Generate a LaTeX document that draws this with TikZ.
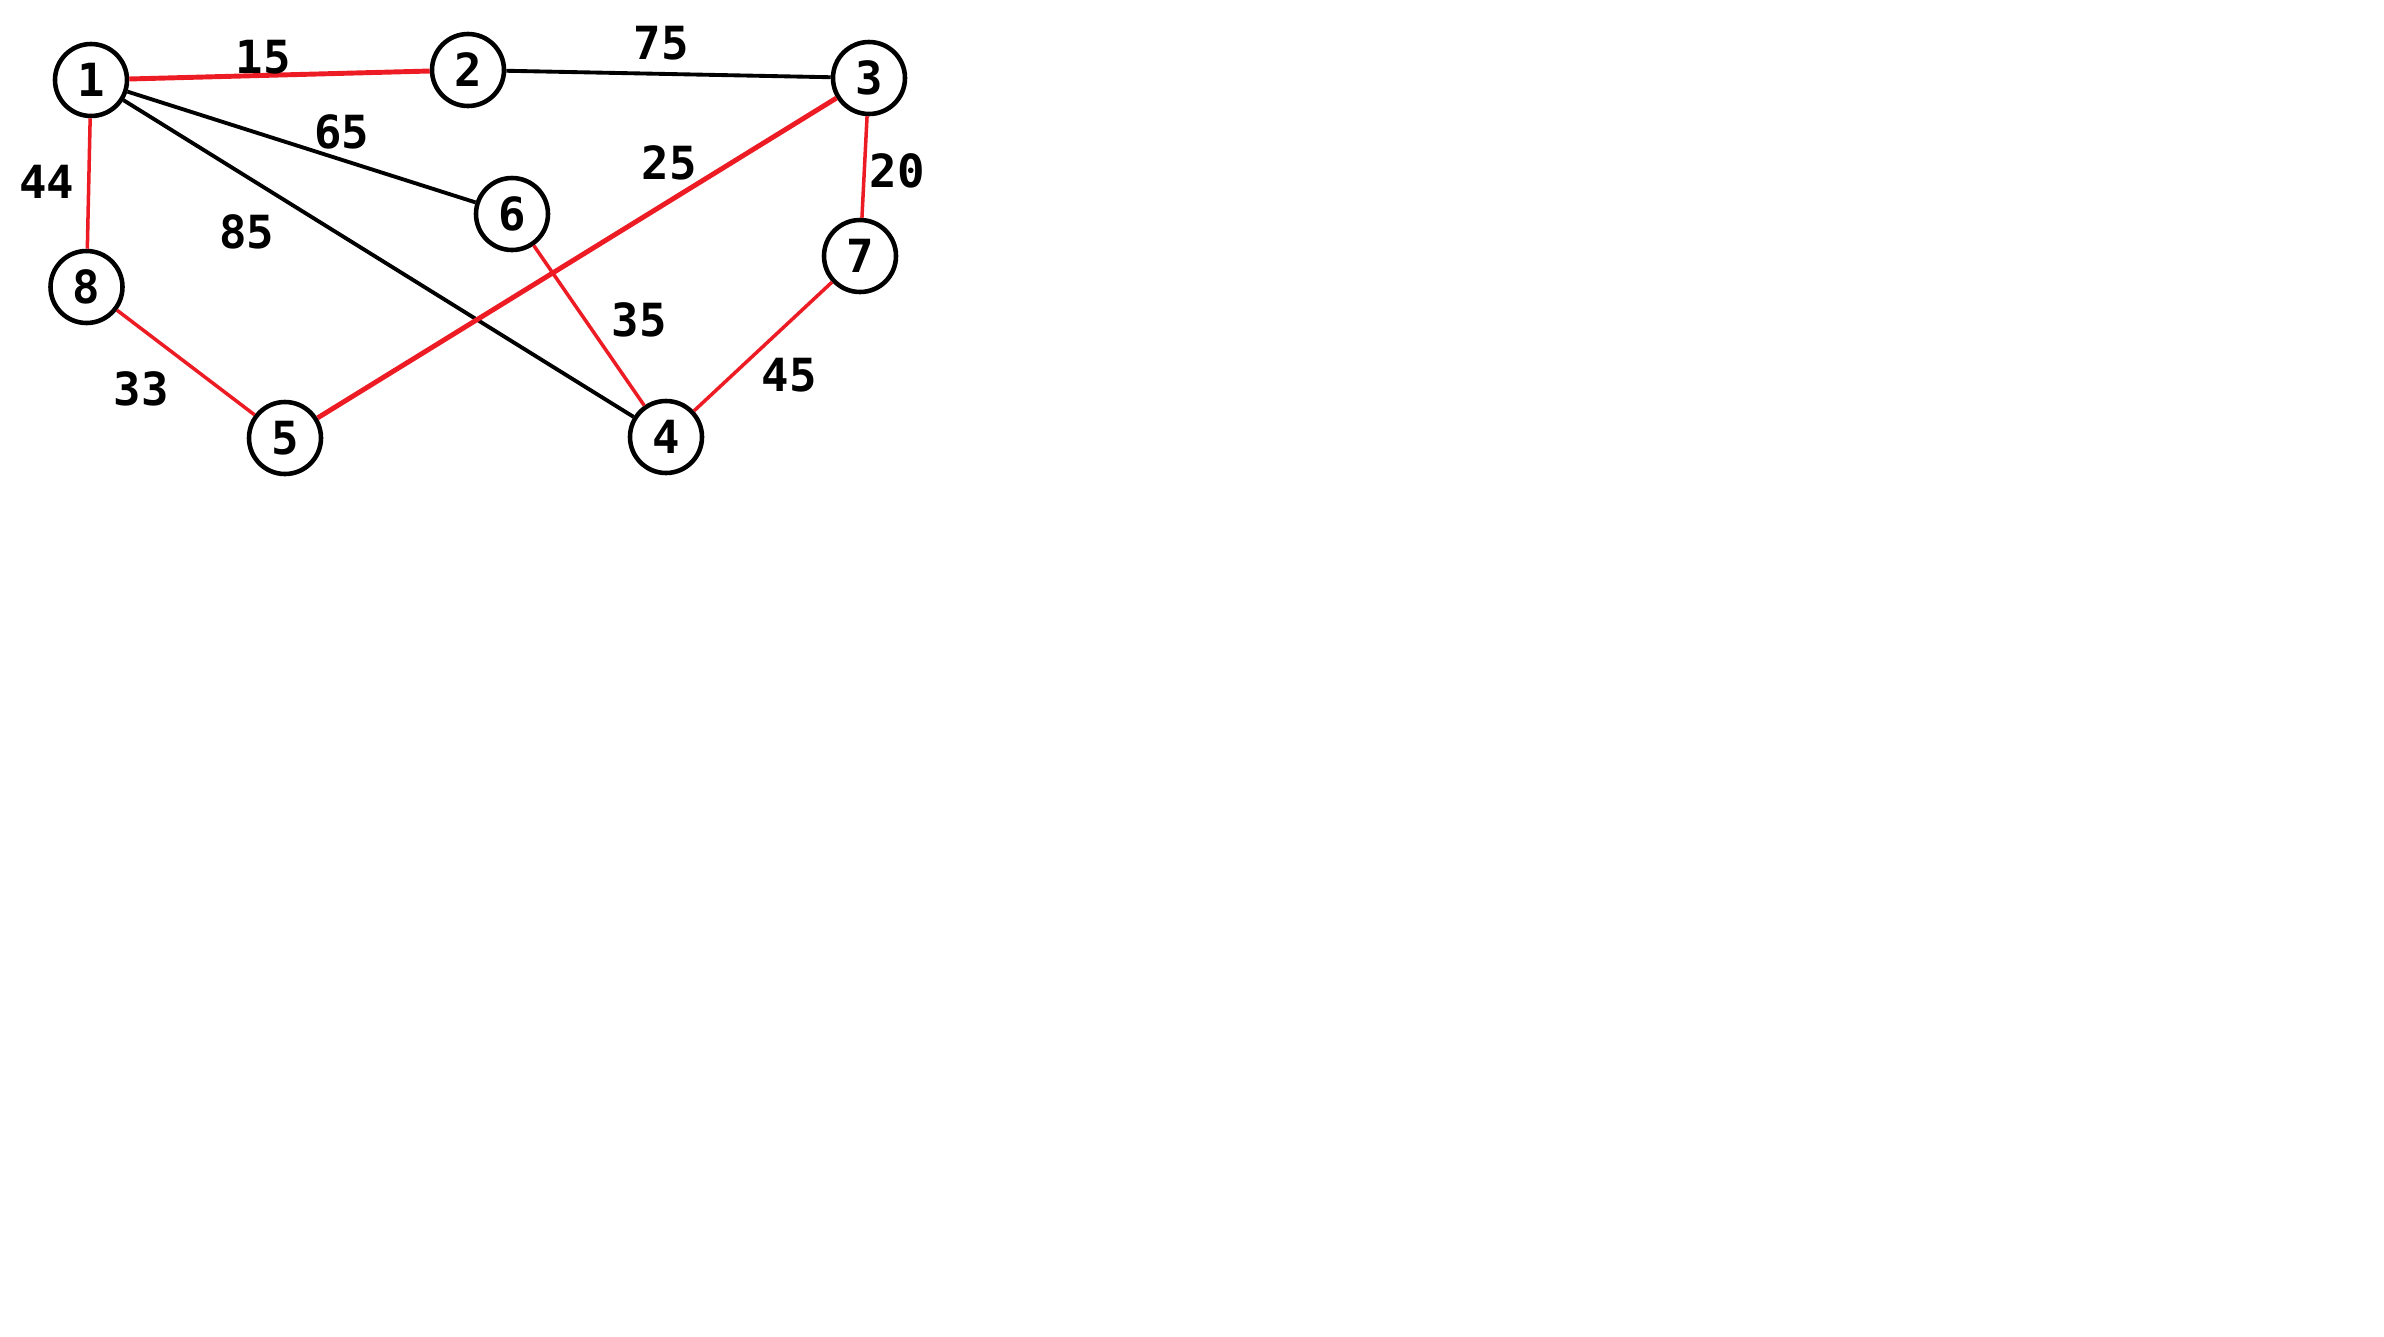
\documentclass[tikz,border=0pt]{standalone}
\usepackage{fontspec}
\newfontfamily\graphfont{DejaVu Sans Mono}
\usepackage{tikz}
\definecolor{paintred}{RGB}{237,28,36}
\tikzset{
  vertex/.style={circle, draw, line width=1.3pt, minimum size=0.72cm, inner sep=0pt, font=\graphfont\bfseries\fontsize{13}{13}\selectfont},
  weight/.style={font=\graphfont\bfseries\fontsize{13}{13}\selectfont, inner sep=0pt},
  redge/.style={draw=paintred, line width=1pt},
  bedge/.style={draw=black, line width=1.1pt}
}
\begin{document}
\begin{tikzpicture}
\useasboundingbox (0,0) rectangle (23.84,-13.36);
% eight vertices
\node[vertex] (n1) at (0.91,-0.80) {1};
\node[vertex] (n2) at (4.68,-0.70) {2};
\node[vertex] (n3) at (8.69,-0.78) {3};
\node[vertex] (n4) at (6.66,-4.37) {4};
\node[vertex] (n5) at (2.85,-4.38) {5};
\node[vertex] (n6) at (5.12,-2.14) {6};
\node[vertex] (n7) at (8.60,-2.56) {7};
\node[vertex] (n8) at (0.865,-2.87) {8};
% black edges
\draw[bedge] (n2) -- (n3);
\draw[bedge] (n1) -- (n6);
\draw[bedge] (n1) -- (n4);
% red edges
\draw[redge, line width=1.4pt] (n1) -- (n2);
\draw[redge] (n1) -- (n8);
\draw[redge] (n8) -- (n5);
\draw[redge, line width=1.4pt] (n5) -- (n3);
\draw[redge] (n3) -- (n7);
\draw[redge] (n6) -- (n4);
\draw[redge] (n7) -- (n4);
% weights
\node[weight] (w12) at (2.63,-0.57) {15};
\node[weight] (w23) at (6.61,-0.43) {75};
\node[weight] (w16) at (3.42,-1.32) {65};
\node[weight] (w35) at (6.69,-1.63) {25};
\node[weight] (w37) at (8.97,-1.71) {20};
\node[weight] (w18) at (0.47,-1.82) {44};
\node[weight] (w14) at (2.47,-2.32) {85};
\node[weight] (w64) at (6.39,-3.20) {35};
\node[weight] (w74) at (7.89,-3.75) {45};
\node[weight] (w85) at (1.41,-3.89) {33};
\end{tikzpicture}
\end{document}
